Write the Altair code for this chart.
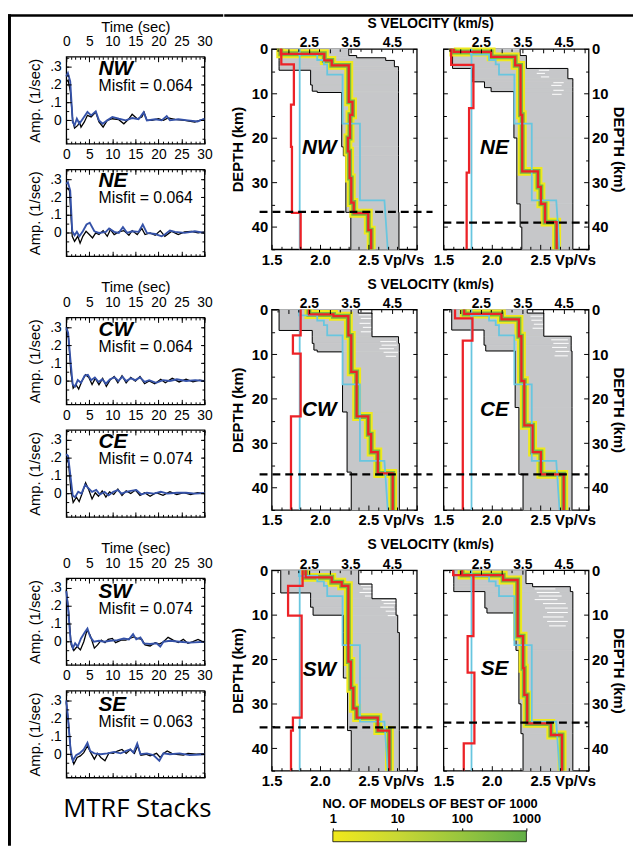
import altair as alt
import pandas as pd

FONT = "Liberation Sans"
GRAY = "#c6c7c9"
RED = "#ec2227"
CYAN = "#68c6df"
YELLOW = "#efe91c"
GREEN = "#78b943"
BLUE = "#3552a8"

# ---------------- receiver function stacks (time s, amplitude 1/s) ----------------
NW_OBS_T = [0, 0.4, 0.9, 1.4, 1.8, 2.5, 2.9, 3.2, 3.9, 4.6, 5.4, 6.4, 7.1, 8.0, 8.9, 10.0, 11.4, 12.5, 13.6, 14.3, 15.4, 16.4, 16.9, 17.5, 18.6, 20.0, 21.1, 22.1, 23.6, 25.7, 27.9, 30]
NW_OBS_A = [0.215, 0.225, 0.16, 0.0, -0.043, -0.028, -0.01, -0.038, -0.01, 0.028, 0.019, 0.047, -0.009, -0.038, 0.0, 0.009, 0.004, -0.019, 0.009, 0.034, 0.009, 0.019, 0.045, 0.0, 0.0, 0.009, 0.0, 0.013, 0.006, 0.0, -0.009, 0.009]
NW_PRE_T = [0, 0.36, 0.86, 1.4, 1.8, 2.3, 2.85, 3.6, 4.6, 5.4, 6.4, 7.1, 7.9, 8.9, 10.0, 11.4, 12.9, 14.3, 15.7, 16.8, 17.5, 19.3, 20.7, 21.8, 22.5, 24.3, 26.4, 28.5, 30]
NW_PRE_A = [0.245, 0.264, 0.217, -0.009, -0.028, 0.009, -0.019, 0.009, 0.047, 0.028, 0.05, 0.0, -0.019, 0.0, 0.019, 0.009, 0.0, 0.013, 0.006, 0.045, 0.0, 0.006, 0.0, 0.024, 0.0, 0.006, 0.0, -0.006, 0.009]

NE_OBS_T = [0, 0.7, 1.3, 1.8, 2.5, 3.0, 3.6, 4.3, 5.0, 5.7, 6.4, 7.1, 8.0, 8.9, 9.6, 10.4, 11.4, 12.5, 13.6, 14.3, 15.4, 16.4, 17.1, 18.2, 19.3, 20.4, 21.4, 22.9, 24.3, 25.7, 27.1, 28.6, 30]
NE_OBS_A = [0.255, 0.236, -0.019, -0.047, -0.019, -0.057, -0.019, 0.009, -0.009, -0.028, 0.0, -0.009, 0.013, -0.019, 0.019, -0.009, 0.006, 0.013, -0.013, 0.013, -0.009, 0.025, -0.009, 0.0, -0.013, 0.013, -0.019, 0.009, -0.009, 0.006, 0.009, 0.0, 0.006]
NE_PRE_T = [0, 0.36, 0.86, 1.3, 1.8, 2.3, 2.85, 3.6, 4.4, 5.1, 6.1, 7.1, 8.6, 9.3, 10.4, 11.4, 12.3, 13.2, 14.3, 15.7, 16.6, 17.5, 19.3, 20.7, 21.4, 22.5, 23.6, 25.7, 27.9, 30]
NE_PRE_A = [0.274, 0.283, 0.236, 0.009, -0.013, 0.006, -0.019, 0.009, 0.047, 0.057, 0.009, 0.0, 0.006, 0.025, 0.006, 0.0, 0.032, 0.0, 0.009, 0.006, 0.047, 0.0, -0.006, -0.019, -0.009, 0.013, 0.006, 0.0, 0.009, 0.0]

CW_OBS_T = [0, 0.5, 1.0, 1.5, 2.1, 2.7, 3.4, 4.2, 4.9, 5.6, 6.3, 7.1, 7.9, 8.7, 9.5, 10.4, 11.2, 12.1, 13.0, 14.0, 15.0, 16.0, 17.0, 18.0, 19.2, 20.5, 21.5, 23.0, 24.5, 26.0, 27.5, 29.0, 30]
CW_OBS_A = [0.29, 0.24, 0.05, -0.04, -0.02, -0.045, 0.0, 0.035, 0.02, -0.02, 0.015, -0.02, 0.015, -0.03, 0.005, 0.025, -0.01, 0.03, -0.01, 0.02, 0.0, 0.025, -0.015, 0.0, -0.015, 0.01, -0.01, 0.015, -0.005, 0.01, -0.005, 0.005, 0.0]
CW_PRE_T = [0, 0.4, 0.9, 1.4, 1.9, 2.5, 3.2, 4.0, 4.7, 5.4, 6.2, 7.0, 7.8, 8.6, 9.5, 10.5, 11.3, 12.2, 13.0, 14.0, 15.0, 16.0, 17.0, 18.0, 19.5, 21.0, 22.5, 24.0, 26.0, 28.0, 30]
CW_PRE_A = [0.30, 0.27, 0.12, -0.02, -0.03, 0.005, -0.01, 0.03, 0.035, 0.005, 0.02, -0.005, 0.01, -0.015, 0.01, 0.02, 0.0, 0.025, 0.0, 0.015, 0.005, 0.02, -0.005, 0.005, -0.01, 0.005, 0.0, 0.01, 0.0, 0.005, 0.0]

CE_OBS_T = [0, 0.5, 1.0, 1.5, 2.2, 2.8, 3.5, 4.2, 4.9, 5.6, 6.3, 7.0, 7.8, 8.6, 9.4, 10.3, 11.2, 12.1, 13.0, 14.0, 15.0, 16.0, 17.0, 18.2, 19.5, 21.0, 22.5, 24.0, 25.5, 27.0, 28.5, 30]
CE_OBS_A = [0.20, 0.17, 0.02, -0.05, -0.02, -0.045, 0.005, 0.06, 0.02, -0.03, 0.005, -0.015, 0.015, -0.02, 0.01, -0.005, 0.025, -0.01, 0.015, 0.0, 0.02, -0.01, 0.005, -0.015, 0.005, -0.01, 0.01, -0.005, 0.005, -0.005, 0.005, 0.0]
CE_PRE_T = [0, 0.4, 0.9, 1.4, 1.9, 2.6, 3.3, 4.1, 4.8, 5.6, 6.5, 7.3, 8.3, 9.2, 10.2, 11.2, 12.0, 13.0, 14.0, 15.2, 16.3, 17.5, 19.0, 20.5, 22.0, 24.0, 26.0, 28.0, 30]
CE_PRE_A = [0.22, 0.21, 0.10, -0.01, -0.02, 0.01, 0.0, 0.05, 0.03, 0.01, 0.02, -0.005, 0.01, -0.01, 0.01, 0.02, 0.0, 0.01, 0.015, 0.02, -0.005, 0.005, 0.0, 0.01, 0.0, 0.005, 0.005, 0.0, 0.003]

SW_OBS_T = [0, 0.5, 1.07, 1.64, 2.36, 3.07, 3.8, 4.5, 5.2, 6.1, 6.8, 7.6, 8.4, 9.1, 10.0, 10.7, 11.9, 12.9, 13.8, 14.6, 15.5, 16.4, 17.1, 18.2, 19.3, 20.2, 21.1, 22.1, 23.2, 24.3, 25.4, 26.4, 27.5, 28.6, 30]
SW_OBS_A = [0.291, 0.173, -0.018, -0.049, -0.027, -0.046, 0.0, 0.064, 0.036, -0.036, -0.018, 0.009, -0.005, 0.013, 0.018, -0.005, 0.009, 0.009, 0.018, 0.027, 0.018, 0.013, -0.018, -0.024, -0.005, -0.013, 0.0, 0.024, 0.009, -0.005, 0.013, -0.009, 0.0, 0.013, -0.005]
SW_PRE_T = [0, 0.36, 0.93, 1.43, 1.93, 2.5, 3.2, 4.1, 4.6, 5.2, 6.0, 7.1, 8.2, 9.6, 11.1, 12.5, 13.6, 14.5, 15.2, 16.1, 16.8, 18.2, 19.6, 20.4, 21.1, 22.5, 24.6, 26.8, 30]
SW_PRE_A = [0.282, 0.20, 0.009, -0.036, -0.009, -0.027, 0.018, 0.055, 0.073, 0.027, 0.0, 0.005, 0.0, 0.005, 0.009, 0.018, 0.013, 0.042, 0.013, 0.024, -0.009, -0.013, -0.009, -0.027, 0.0, 0.005, 0.0, -0.005, 0.0]

SE_OBS_T = [0, 0.5, 1.07, 1.64, 2.36, 3.07, 3.8, 4.6, 5.4, 6.1, 6.8, 7.5, 8.4, 9.3, 10.2, 11.1, 12.1, 13.0, 13.9, 14.8, 15.5, 16.2, 17.3, 18.2, 19.6, 20.4, 21.1, 21.9, 22.9, 23.9, 25.4, 26.4, 28.2, 30]
SE_OBS_A = [0.291, 0.173, -0.009, -0.055, -0.018, -0.009, 0.009, 0.046, 0.005, -0.027, 0.005, -0.018, -0.036, 0.009, 0.005, 0.018, 0.027, 0.005, 0.027, 0.005, 0.049, -0.005, 0.0, -0.009, 0.005, -0.018, 0.005, 0.018, 0.005, 0.0, -0.005, 0.005, 0.0, 0.004]
SE_PRE_T = [0, 0.36, 0.93, 1.43, 2.14, 2.86, 3.8, 4.6, 5.2, 6.1, 7.5, 8.9, 10.4, 11.8, 12.9, 13.9, 14.6, 15.4, 16.1, 17.5, 18.9, 20.2, 21.1, 22.5, 24.6, 26.8, 30]
SE_PRE_A = [0.301, 0.209, 0.027, -0.036, -0.005, 0.005, 0.027, 0.064, 0.018, 0.005, 0.0, 0.005, 0.013, 0.005, 0.018, 0.027, 0.009, 0.06, 0.0, 0.005, -0.005, -0.036, 0.005, 0.0, 0.005, -0.005, 0.0]

RF_NAMES = ["NW", "NE", "CW", "CE", "SW", "SE"]
RF_MISFIT = ["0.064", "0.064", "0.064", "0.074", "0.074", "0.063"]
RF_NAME_Y = [0.289, 0.289, 0.287, 0.287, 0.276, 0.276]
RF_MISFIT_Y = [0.193, 0.193, 0.19, 0.19, 0.18, 0.18]
RF_TEXT_T = 7.0

TIME_LABELS = [0, 5, 10, 15, 20, 25, 30]
TIME_MINOR = list(range(0, 31))
AMP_LABELS = [0, 0.1, 0.2, 0.3]
AMP_MINOR = [-0.1, -0.05, 0, 0.05, 0.1, 0.15, 0.2, 0.25, 0.3, 0.35]

# ---------------- velocity model panels (Vs km/s, depth km) ----------------
NW_GRAY_TOP = [0, 1.5, 2.0, 2.6, 4.0, 4.8, 8.1, 9.5, 9.8, 22, 24, 36.7]
NW_GRAY_MIN = [1.78, 1.78, 1.78, 1.78, 1.78, 2.54, 2.58, 2.70, 3.29, 3.33, 3.39, 3.51]
NW_GRAY_MAX = [3.46, 3.65, 4.35, 4.56, 4.66, 4.66, 4.66, 4.66, 4.66, 4.66, 4.66, 4.67]
NW_RED_TOP = [0, 1.1, 2.6, 3.7, 11.9, 14.8, 20, 23, 29, 34.5, 36.9, 40.7]
NW_RED_VS = [1.82, 2.87, 3.05, 3.46, 3.55, 3.49, 3.44, 3.48, 3.52, 3.58, 3.93, 4.0]
NW_VPVS_TOP = [0, 3.5, 12.5, 22, 36.8]
NW_VPVS = [1.60, 1.73, 1.70, 1.71, 1.80]
NW_WHITE_D, NW_WHITE_V1, NW_WHITE_V2 = [], [], []

NE_GRAY_TOP = [0, 1.5, 4.4, 6.7, 7.4, 8.7, 9.6, 20, 34.8, 40]
NE_GRAY_MIN = [1.82, 1.82, 2.30, 2.30, 2.59, 2.75, 3.30, 3.37, 3.45, 3.49]
NE_GRAY_MAX = [3.45, 3.60, 4.60, 4.72, 4.72, 4.72, 4.72, 4.72, 4.72, 4.72]
NE_RED_TOP = [0, 0.7, 1.8, 3.7, 14.8, 27.5, 31, 34.8, 38.9]
NE_RED_VS = [1.85, 2.75, 3.33, 3.46, 3.50, 3.88, 3.95, 4.05, 4.33]
NE_VPVS_TOP = [0, 3.6, 13.3, 27.8]
NE_VPVS = [1.58, 1.81, 1.765, 1.74]
NE_WHITE_D = [4.2, 4.8, 5.5, 6.3, 7.6, 8.2, 9.3, 10.2]
NE_WHITE_V1 = [3.85, 3.9, 3.85, 3.95, 4.25, 4.2, 4.25, 4.22]
NE_WHITE_V2 = [4.1, 4.15, 4.05, 4.15, 4.5, 4.45, 4.5, 4.45]

CW_GRAY_TOP = [0, 0.8, 4.7, 6.1, 7.6, 9.1, 9.5, 23, 36.5]
CW_GRAY_MIN = [1.78, 1.78, 2.58, 2.58, 2.62, 2.70, 3.31, 3.42, 3.52]
CW_GRAY_MAX = [3.69, 4.02, 4.02, 4.66, 4.68, 4.68, 4.68, 4.68, 4.68]
CW_RED_TOP = [0, 1.1, 1.5, 5.8, 14, 24, 28, 32, 36.8]
CW_RED_VS = [2.5, 3.09, 3.45, 3.52, 3.65, 3.93, 4.0, 4.16, 4.52]
CW_VPVS_TOP = [0, 5.8, 9.9, 24]
CW_VPVS = [1.80, 1.72, 1.80, 1.70]
CW_WHITE_D = [1.2, 2.0, 3.1, 4.0, 5.0, 7.2, 8.0, 8.8, 9.6, 10.5]
CW_WHITE_V1 = [3.7, 3.75, 3.72, 3.8, 3.75, 4.22, 4.25, 4.2, 4.3, 4.35]
CW_WHITE_V2 = [4.0, 4.02, 3.98, 4.02, 4.0, 4.6, 4.62, 4.55, 4.65, 4.6]

CE_GRAY_TOP = [0, 0.8, 4.6, 6.0, 8.0, 9.3, 22, 37]
CE_GRAY_MIN = [1.80, 1.80, 2.58, 2.58, 2.62, 3.33, 3.42, 3.52]
CE_GRAY_MAX = [3.62, 4.02, 4.02, 4.68, 4.68, 4.70, 4.70, 4.70]
CE_RED_TOP = [0, 1.0, 2.2, 6, 16, 26, 32, 37]
CE_RED_VS = [2.1, 3.0, 3.42, 3.48, 3.55, 3.75, 3.95, 4.5]
CE_VPVS_TOP = [0, 2.0, 7.0]
CE_VPVS = [1.62, 1.80, 1.70]
CE_WHITE_D = [1.5, 2.4, 3.3, 4.2, 6.8, 7.6, 8.5, 9.4, 10.4]
CE_WHITE_V1 = [3.7, 3.72, 3.78, 3.75, 4.2, 4.25, 4.22, 4.3, 4.28]
CE_WHITE_V2 = [4.0, 3.98, 4.02, 4.0, 4.6, 4.62, 4.58, 4.64, 4.6]

SW_GRAY_TOP = [0, 3.1, 5.1, 6.4, 8.3, 10.1, 14, 24.2, 36]
SW_GRAY_MIN = [1.82, 1.82, 2.54, 2.54, 2.60, 3.33, 3.33, 3.43, 3.52]
SW_GRAY_MAX = [3.70, 4.02, 4.02, 4.60, 4.60, 4.64, 4.68, 4.68, 4.68]
SW_RED_TOP = [0, 1.6, 2.7, 3.5, 20.5, 26.5, 31, 33.1, 36]
SW_RED_VS = [2.42, 3.05, 3.29, 3.45, 3.51, 3.57, 3.65, 4.16, 4.44]
SW_VPVS_TOP = [0, 3.5, 10.2, 33.1, 36]
SW_VPVS = [1.82, 1.67, 1.81, 1.72, 1.70]
SW_WHITE_D = [3.4, 4.2, 5.0, 5.8, 6.8, 7.5, 8.3, 9.2, 10.2]
SW_WHITE_V1 = [3.75, 3.8, 3.72, 3.85, 4.25, 4.3, 4.22, 4.35, 4.4]
SW_WHITE_V2 = [4.1, 4.15, 4.05, 4.2, 4.6, 4.62, 4.55, 4.6, 4.58]

SE_GRAY_TOP = [0, 3.0, 3.7, 4.8, 8.5, 9.6, 18, 30, 36.7]
SE_GRAY_MIN = [1.85, 1.85, 1.85, 2.60, 2.65, 3.35, 3.42, 3.47, 3.52]
SE_GRAY_MAX = [3.59, 3.75, 4.66, 4.72, 4.72, 4.72, 4.72, 4.72, 4.72]
SE_RED_TOP = [0, 1.1, 2.2, 14.8, 22, 28, 34.4, 37]
SE_RED_VS = [2.05, 3.04, 3.39, 3.52, 3.55, 3.62, 4.19, 4.46]
SE_VPVS_TOP = [0, 1.1, 14.8, 23, 38.9]
SE_VPVS = [1.60, 1.81, 1.75, 1.82, 1.71]
SE_WHITE_D = [4.2, 5.0, 5.8, 6.6, 7.5, 8.5, 9.5, 10.5, 11.5, 12.5]
SE_WHITE_V1 = [3.8, 3.85, 3.9, 3.8, 4.0, 4.05, 4.1, 4.0, 4.1, 4.15]
SE_WHITE_V2 = [4.3, 4.4, 4.45, 4.35, 4.55, 4.6, 4.6, 4.5, 4.6, 4.55]

MOHO = [36.6, 39.0, 37.0, 37.0, 35.3, 34.2]
VEL_LABEL_VS = [2.75, 2.83, 2.75, 2.83, 2.75, 2.83]
VEL_LABEL_D = [22.3, 22.2, 22.5, 22.5, 22.5, 22.2]

# starting model (cyan), common to all panels
CYAN_D = [0, 1.3, 1.3, 2.5, 2.5, 3.5, 3.5, 5.8, 5.8, 16.8, 16.8, 34, 34, 45]
CYAN_VS = [2.26, 2.26, 2.70, 2.70, 2.86, 2.86, 2.94, 2.94, 3.31, 3.31, 3.73, 3.73, 4.32, 4.40]
CYAN_VPVS = 1.79

VS_LABELS = [2.5, 3.5, 4.5]
VS_MAJOR = [2.0, 2.5, 3.0, 3.5, 4.0, 4.5, 5.0]
VS_MINOR = [1.75, 2.25, 2.75, 3.25, 3.75, 4.25, 4.75]
VR_LABELS = [1.5, 2.0, 2.5, 2.86]
VR_MAJOR = [1.5, 2.0, 2.5, 3.0]
VR_MINOR = [1.6, 1.7, 1.8, 1.9, 2.1, 2.2, 2.3, 2.4, 2.6, 2.7, 2.8, 2.9]
D_LABELS = [0, 10, 20, 30, 40]
D_MINOR = [5, 15, 25, 35, 45]

CB_TICKS = [1, 10, 100, 1000]
CB_TITLE = "NO. OF MODELS OF BEST OF 1000"

# ---------------- helpers ----------------
ONE = pd.DataFrame({"k": [0]})


def step_path(tops, vals, bottom=45.0):
    d, v = [], []
    for k, val in enumerate(vals):
        b = tops[k + 1] if k + 1 < len(tops) else bottom
        d += [tops[k], b]
        v += [val, val]
    return d, v


def tick_axis(orient, values, size):
    return alt.Axis(orient=orient, values=values, labels=False, domain=False, grid=False,
                    ticks=True, tickSize=size, tickWidth=1, tickColor="black",
                    offset=-size, title=None, zindex=2)


def label_axis(orient, values, size, weight, pad, title=None, title_pad=0, title_size=15,
               title_weight="normal", fmt=None, expr=None):
    kw = dict(orient=orient, values=values, ticks=False, tickSize=0, domain=False, grid=False,
              labelFont=FONT, labelFontSize=size, labelFontWeight=weight, labelColor="black",
              labelPadding=pad, labelFlush=False, labelOverlap=False, zindex=2)
    if fmt is not None:
        kw["format"] = fmt
    if expr is not None:
        kw["labelExpr"] = expr
    if title is None:
        kw["title"] = None
    else:
        kw.update(title=title, titleFont=FONT, titleFontSize=title_size,
                  titleFontWeight=title_weight, titleColor="black", titlePadding=title_pad)
    return alt.Axis(**kw)


def frame_rect(x1, x2, y1, y2):
    # thick black figure frame line, positioned in pixels relative to the host view
    return alt.Chart(ONE).mark_rect(color="black").encode(
        x=alt.value(x1), x2=alt.value(x2), y=alt.value(y1), y2=alt.value(y2))


def blank(w, h):
    return alt.Chart(ONE).mark_rect(opacity=0).encode(
        x=alt.value(0), x2=alt.value(w), y=alt.value(0), y2=alt.value(h)).properties(width=w, height=h)


# ---------------- receiver function panel ----------------
T_SCALE = alt.Scale(domain=[0, 30], nice=False, zero=False)
A_SCALE = alt.Scale(domain=[-0.13, 0.355], nice=False, zero=False)
RF_W, RF_H = 140, 88


def rf_panel(k, obs_t, obs_a, pre_t, pre_a, first):
    obs = pd.DataFrame({"t": obs_t, "a": obs_a, "i": list(range(len(obs_t)))})
    pre = pd.DataFrame({"t": pre_t, "a": pre_a, "i": list(range(len(pre_t)))})
    X = alt.X("t:Q", scale=T_SCALE, axis=None)
    Y = alt.Y("a:Q", scale=A_SCALE, axis=None)
    black = alt.Chart(obs).mark_line(color="black", strokeWidth=1.3).encode(x=X, y=Y, order="i:Q")
    blue = alt.Chart(pre).mark_line(color=BLUE, strokeWidth=1.9).encode(x=X, y=Y, order="i:Q")
    name_df = pd.DataFrame({"t": [RF_TEXT_T], "a": [RF_NAME_Y[k]], "s": [RF_NAMES[k]]})
    mis_df = pd.DataFrame({"t": [RF_TEXT_T], "a": [RF_MISFIT_Y[k]], "s": ["Misfit = " + RF_MISFIT[k]]})
    name = alt.Chart(name_df).mark_text(font=FONT, fontSize=21, fontWeight="bold", fontStyle="italic",
                                        align="left", baseline="middle", color="black").encode(x=X, y=Y, text="s:N")
    mis = alt.Chart(mis_df).mark_text(font=FONT, fontSize=16, align="left", baseline="middle",
                                      color="black").encode(x=X, y=Y, text="s:N")
    dummy = pd.DataFrame({"t": [15.0], "a": [0.1]})

    def ax(xa, ya):
        return alt.Chart(dummy).mark_point(opacity=0).encode(
            x=alt.X("t:Q", scale=T_SCALE, axis=xa), y=alt.Y("a:Q", scale=A_SCALE, axis=ya))

    top_lab = label_axis("top", TIME_LABELS, 14, "normal", 8,
                         title="Time (sec)" if first else None, title_pad=1, fmt="d")
    left_lab = label_axis("left", AMP_LABELS, 14, "normal", 5, title="Amp. (1/sec)", title_pad=7,
                          expr="datum.value == 0 ? '0' : replace(format(datum.value, '.1f'), '0.', '.')")
    layers = [
        black, blue, name, mis,
        ax(top_lab, left_lab),
        ax(tick_axis("top", TIME_MINOR, 2.5), tick_axis("left", AMP_MINOR, 2.5)),
        ax(tick_axis("top", TIME_LABELS, 5), tick_axis("left", AMP_LABELS, 5)),
        ax(tick_axis("bottom", TIME_MINOR, 2.5), tick_axis("right", AMP_MINOR, 2.5)),
        ax(tick_axis("bottom", TIME_LABELS, 5), tick_axis("right", AMP_LABELS, 4)),
    ]
    return alt.layer(*layers).resolve_axis(x="independent", y="independent").properties(
        width=RF_W, height=RF_H, view=alt.ViewBackground(stroke="black", strokeWidth=1.3))


# ---------------- velocity panel ----------------
VS_SCALE = alt.Scale(domain=[1.6, 5.1], nice=False, zero=False)
VR_SCALE = alt.Scale(domain=[1.5, 3.0], nice=False, zero=False)
D_SCALE = alt.Scale(domain=[0, 45], nice=False, zero=False, reverse=True)
VEL_W, VEL_H = 147, 203


def vel_panel(k, gtop, gmin, gmax, rtop, rvs, ptop, pvs, wd, wv1, wv2, west, extra=None):
    VX = lambda f: alt.X(f, type="quantitative", scale=VS_SCALE, axis=None)
    RX = lambda f: alt.X(f, type="quantitative", scale=VR_SCALE, axis=None)
    DY = lambda f: alt.Y(f, type="quantitative", scale=D_SCALE, axis=None)

    gbot = gtop[1:] + [45.0]
    gray_df = pd.DataFrame({"top": gtop, "bot": gbot, "vmin": gmin, "vmax": gmax})
    d1, v1 = step_path(gtop, gmin)
    d2, v2 = step_path(gtop, gmax)
    bnd_df = pd.DataFrame({"d": d1 + d2, "v": v1 + v2,
                           "side": ["min"] * len(d1) + ["max"] * len(d2),
                           "i": list(range(len(d1))) + list(range(len(d2)))})
    rd, rv = step_path(rtop, rvs)
    red_df = pd.DataFrame({"d": rd, "v": rv, "i": list(range(len(rd)))})
    pd_, pv = step_path(ptop, pvs)
    vpvs_df = pd.DataFrame({"d": pd_, "r": pv, "i": list(range(len(pd_)))})
    cyan_df = pd.DataFrame({"d": CYAN_D, "v": CYAN_VS, "i": list(range(len(CYAN_D)))})
    cyan_r_df = pd.DataFrame({"d": [0.0, 45.0], "r": [CYAN_VPVS, CYAN_VPVS], "i": [0, 1]})
    moho_df = pd.DataFrame({"d": [MOHO[k]], "x1": [1.31 if west else 1.6], "x2": [5.48 if west else 5.08]})
    lab_df = pd.DataFrame({"v": [VEL_LABEL_VS[k]], "d": [VEL_LABEL_D[k]], "s": [RF_NAMES[k]]})

    layers = [
        alt.Chart(gray_df).mark_rect(color=GRAY, stroke=GRAY, strokeWidth=0.8).encode(
            x=VX("vmin"), x2=alt.X2("vmax"), y=DY("top"), y2=alt.Y2("bot")),
    ]
    if wd:
        white_df = pd.DataFrame({"d": wd, "v1": wv1, "v2": wv2})
        layers.append(alt.Chart(white_df).mark_rule(color="white", strokeWidth=1).encode(
            x=VX("v1"), x2=alt.X2("v2"), y=DY("d")))
    layers += [
        alt.Chart(bnd_df).mark_line(color="black", strokeWidth=1).encode(
            x=VX("v"), y=DY("d"), order="i:Q", detail="side:N"),
        alt.Chart(red_df).mark_line(color=YELLOW, strokeWidth=9).encode(x=VX("v"), y=DY("d"), order="i:Q"),
        alt.Chart(red_df).mark_line(color=GREEN, strokeWidth=5).encode(x=VX("v"), y=DY("d"), order="i:Q"),
        alt.Chart(cyan_df).mark_line(color=CYAN, strokeWidth=1.8).encode(x=VX("v"), y=DY("d"), order="i:Q"),
        alt.Chart(cyan_r_df).mark_line(color=CYAN, strokeWidth=1.8).encode(x=RX("r"), y=DY("d"), order="i:Q"),
        alt.Chart(red_df).mark_line(color=RED, strokeWidth=2.3).encode(x=VX("v"), y=DY("d"), order="i:Q"),
        alt.Chart(vpvs_df).mark_line(color=RED, strokeWidth=2.3).encode(x=RX("r"), y=DY("d"), order="i:Q"),
        alt.Chart(moho_df).mark_rule(color="black", strokeWidth=2.3, strokeDash=[8, 5]).encode(
            x=VX("x1"), x2=alt.X2("x2"), y=DY("d")),
        alt.Chart(lab_df).mark_text(font=FONT, fontSize=21, fontWeight="bold", fontStyle="italic",
                                    color="black", align="center", baseline="middle").encode(
            x=VX("v"), y=DY("d"), text="s:N"),
    ]
    dummy = pd.DataFrame({"v": [3.0], "r": [2.0], "d": [20.0]})

    def ax(xenc, ya):
        return alt.Chart(dummy).mark_point(opacity=0).encode(
            x=xenc, y=alt.Y("d:Q", scale=D_SCALE, axis=ya))

    side = "left" if west else "right"
    opp = "right" if west else "left"
    d_lab = label_axis(side, D_LABELS, 15, "bold", 4 if west else 3, title="DEPTH (km)",
                       title_pad=6 if west else 3, title_size=15, title_weight="bold", fmt="d")
    vs_lab = label_axis("top", VS_LABELS, 14, "bold", -1, fmt=".1f")
    vr_lab = label_axis("bottom", VR_LABELS, 15, "bold", 3,
                        expr="datum.value > 2.7 ? 'Vp/Vs' : format(datum.value, '.1f')")
    layers += [
        ax(alt.X("v:Q", scale=VS_SCALE, axis=vs_lab), d_lab),
        ax(alt.X("v:Q", scale=VS_SCALE, axis=tick_axis("top", VS_MINOR, 2.5)), tick_axis(side, D_MINOR, 3)),
        ax(alt.X("v:Q", scale=VS_SCALE, axis=tick_axis("top", VS_MAJOR, 4)), tick_axis(side, D_LABELS, 5)),
        ax(alt.X("r:Q", scale=VR_SCALE, axis=vr_lab), tick_axis(opp, D_MINOR, 3)),
        ax(alt.X("r:Q", scale=VR_SCALE, axis=tick_axis("bottom", VR_MINOR, 3)), tick_axis(opp, D_LABELS, 4)),
        ax(alt.X("r:Q", scale=VR_SCALE, axis=tick_axis("bottom", VR_MAJOR, 5)), None),
    ]
    if extra is not None:
        layers.append(extra)
    props = dict(width=VEL_W, height=VEL_H, view=alt.ViewBackground(stroke="black", strokeWidth=1.3))
    if west:
        props["title"] = alt.TitleParams("S VELOCITY (km/s)", anchor="start", frame="group", dx=97,
                                         offset=0, font=FONT, fontSize=14, fontWeight="bold", color="black")
    return alt.layer(*layers).resolve_scale(x="independent").resolve_axis(
        x="independent", y="independent").properties(**props)


# ---------------- assemble ----------------
rf = [
    rf_panel(0, NW_OBS_T, NW_OBS_A, NW_PRE_T, NW_PRE_A, True),
    rf_panel(1, NE_OBS_T, NE_OBS_A, NE_PRE_T, NE_PRE_A, False),
    rf_panel(2, CW_OBS_T, CW_OBS_A, CW_PRE_T, CW_PRE_A, True),
    rf_panel(3, CE_OBS_T, CE_OBS_A, CE_PRE_T, CE_PRE_A, False),
    rf_panel(4, SW_OBS_T, SW_OBS_A, SW_PRE_T, SW_PRE_A, True),
    rf_panel(5, SE_OBS_T, SE_OBS_A, SE_PRE_T, SE_PRE_A, False),
]
mtrf = alt.Chart(pd.DataFrame({"s": ["MTRF Stacks"]})).mark_text(
    font="Open Sans", fontSize=26, align="center", baseline="middle", color="black").encode(
    text="s:N", x=alt.value(72), y=alt.value(10)).properties(width=RF_W, height=22)

# first cell of the left column carries the figure frame (left edge and left part of top edge)
frame_cell = alt.layer(
    blank(RF_W, 4),
    frame_rect(-59, -56, -35, 807),
    frame_rect(-59, 159, -35, -32.5),
).properties(width=RF_W, height=4)

colA = alt.vconcat(frame_cell, rf[0], blank(RF_W, 18), rf[1], blank(RF_W, 54), rf[2], blank(RF_W, 18),
                   rf[3], blank(RF_W, 54), rf[4], blank(RF_W, 18), rf[5], blank(RF_W, 14), mtrf,
                   spacing=4, bounds="flush")

vel = [
    vel_panel(0, NW_GRAY_TOP, NW_GRAY_MIN, NW_GRAY_MAX, NW_RED_TOP, NW_RED_VS, NW_VPVS_TOP, NW_VPVS,
              NW_WHITE_D, NW_WHITE_V1, NW_WHITE_V2, True),
    vel_panel(1, NE_GRAY_TOP, NE_GRAY_MIN, NE_GRAY_MAX, NE_RED_TOP, NE_RED_VS, NE_VPVS_TOP, NE_VPVS,
              NE_WHITE_D, NE_WHITE_V1, NE_WHITE_V2, False, extra=frame_rect(-222, 192, -35, -32.5)),
    vel_panel(2, CW_GRAY_TOP, CW_GRAY_MIN, CW_GRAY_MAX, CW_RED_TOP, CW_RED_VS, CW_VPVS_TOP, CW_VPVS,
              CW_WHITE_D, CW_WHITE_V1, CW_WHITE_V2, True),
    vel_panel(3, CE_GRAY_TOP, CE_GRAY_MIN, CE_GRAY_MAX, CE_RED_TOP, CE_RED_VS, CE_VPVS_TOP, CE_VPVS,
              CE_WHITE_D, CE_WHITE_V1, CE_WHITE_V2, False),
    vel_panel(4, SW_GRAY_TOP, SW_GRAY_MIN, SW_GRAY_MAX, SW_RED_TOP, SW_RED_VS, SW_VPVS_TOP, SW_VPVS,
              SW_WHITE_D, SW_WHITE_V1, SW_WHITE_V2, True),
    vel_panel(5, SE_GRAY_TOP, SE_GRAY_MIN, SE_GRAY_MAX, SE_RED_TOP, SE_RED_VS, SE_VPVS_TOP, SE_VPVS,
              SE_WHITE_D, SE_WHITE_V1, SE_WHITE_V2, False),
]
grid = alt.concat(*vel, columns=2, spacing={"row": 61, "column": 27}, bounds="flush")

cb_df = pd.DataFrame({"lo": [CB_TICKS[0]], "hi": [CB_TICKS[-1]]})
gradient = {"gradient": "linear", "x1": 0, "x2": 1, "y1": 0, "y2": 0,
            "stops": [{"offset": 0, "color": "#f1e91b"}, {"offset": 0.33, "color": "#c9d834"},
                      {"offset": 0.66, "color": "#98c63e"}, {"offset": 1, "color": "#62af47"}]}
cb_axis = alt.Axis(orient="top", values=CB_TICKS, format="d", domain=False, grid=False, ticks=True,
                   tickSize=3, tickColor="black", labelFont=FONT, labelFontSize=13, labelFontWeight="bold",
                   labelColor="black", labelPadding=2, labelFlush=False, labelOverlap=False,
                   title=CB_TITLE, titleFont=FONT, titleFontSize=13, titleFontWeight="bold",
                   titleColor="black", titlePadding=3)
colorbar = alt.Chart(cb_df).mark_rect(fill=gradient, stroke="black", strokeWidth=0.8).encode(
    x=alt.X("lo:Q", scale=alt.Scale(type="log", domain=[1, 1000], nice=False), axis=cb_axis),
    x2=alt.X2("hi:Q"), y=alt.value(0), y2=alt.value(11)).properties(width=196, height=11)

cb_row = alt.hconcat(blank(50, 1), colorbar, spacing=0)
colBC = alt.vconcat(grid, cb_row, spacing=8)
chart = alt.hconcat(colA, colBC, spacing=0).properties(
    padding={"left": 0, "top": 0, "right": 0, "bottom": 0}).configure(
    font=FONT, view=alt.ViewConfig(strokeWidth=0))

chart.save("out.html", embed_options={"renderer": "svg", "actions": False})
